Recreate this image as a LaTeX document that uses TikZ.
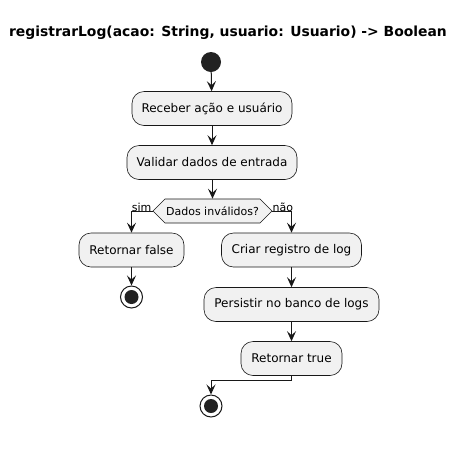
\documentclass[tikz,border=0pt]{standalone}
\usepackage{fontspec}
\setmainfont{DejaVu Sans}
\usetikzlibrary{arrows.meta,shapes.symbols}
\definecolor{boxfill}{HTML}{F1F1F1}
\definecolor{ink}{HTML}{181818}
\definecolor{dot}{HTML}{222222}
\tikzset{
  act/.style={draw=ink, fill=boxfill, rounded corners=12pt, line width=0.6pt,
    minimum height=34pt, inner sep=0pt, font=\fontsize{12}{14}\selectfont},
  decision/.style={draw=ink, fill=boxfill, line width=0.6pt, signal, signal to=east and west,
    signal pointer angle=90, minimum height=24pt, inner sep=0pt, font=\fontsize{11}{13}\selectfont},
  flow/.style={draw=ink, line width=1pt, -{Stealth[length=10pt,width=9pt,inset=4pt]}},
  lbl/.style={font=\fontsize{11}{13}\selectfont, inner sep=0pt},
  startdot/.style={circle, fill=dot, minimum size=20pt, inner sep=0pt},
  stopring/.style={circle, draw=ink, line width=1pt, fill=white, minimum size=22pt, inner sep=0pt},
  stopdot/.style={circle, fill=dot, minimum size=14pt, inner sep=0pt},
}
\begin{document}
\begin{tikzpicture}[x=1pt,y=-1pt]
\useasboundingbox (0,0) rectangle (476,467);
\fill[white] (0,0) rectangle (476,467);
\node[font=\bfseries\fontsize{13.9}{16}\selectfont, inner sep=0pt] (title) at (228,33) {registrarLog(acao: String, usuario: Usuario) -> Boolean};
\node[startdot] (start) at (211,62) {};
\node[act, minimum width=160pt] (b1) at (212,108.5) {Receber ação e usuário};
\node[act, minimum width=170pt] (b2) at (212,162.5) {Validar dados de entrada};
\node[decision, minimum width=119pt] (d) at (212.5,211) {Dados inválidos?};
\node[act, minimum width=105pt] (bf) at (131.5,250) {Retornar false};
\node[stopring] (s1) at (131.5,297) {};
\node[stopdot] at (s1) {};
\node[act, minimum width=140pt] (b3) at (291.5,250) {Criar registro de log};
\node[act, minimum width=175pt] (b4) at (291.5,304.5) {Persistir no banco de logs};
\node[act, minimum width=101pt] (b5) at (291.5,358.5) {Retornar true};
\node[stopring] (s2) at (211,406) {};
\node[stopdot] at (s2) {};
\coordinate (m) at (211,380);
\draw[flow] (start) -- (b1);
\draw[flow] (b1) -- (b2);
\draw[flow] (b2.south -| d.north) -- (d.north);
\draw[flow] (d.west) -| (bf.north);
\draw[flow] (d.east) -| (b3.north);
\draw[flow] (bf) -- (s1);
\draw[flow] (b3) -- (b4);
\draw[flow] (b4) -- (b5);
\draw[flow] (b5.south) |- (m) -- (s2.north);
\node[lbl, anchor=south east] (lsim) at ([xshift=-1pt,yshift=-1pt]d.west) {sim};
\node[lbl, anchor=south west] (lnao) at ([xshift=0pt,yshift=-1pt]d.east) {não};
\end{tikzpicture}
\end{document}
